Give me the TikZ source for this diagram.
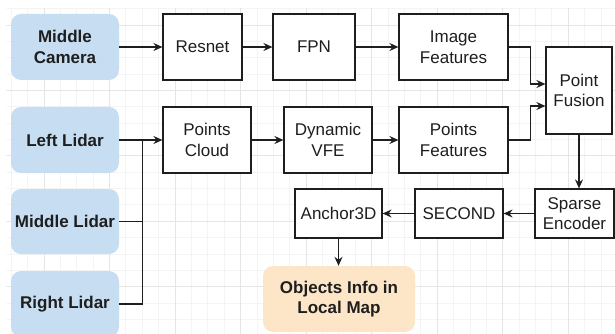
\documentclass[tikz,border=0pt]{standalone}
\usepackage{fontspec}
\setmainfont{Liberation Sans}
\usetikzlibrary{arrows.meta,calc}
\definecolor{srcblue}{RGB}{199,222,242}
\definecolor{outorange}{RGB}{253,230,200}
\definecolor{gridminor}{RGB}{244,244,244}
\definecolor{gridmajor}{RGB}{229,229,229}
\definecolor{ink}{RGB}{30,30,30}
\tikzset{
  lbl/.style={font=\fontsize{17}{20.5}\selectfont, align=center, text=ink, inner sep=0pt},
  proc/.style={lbl, draw=ink, line width=1.2pt, fill=white},
  source/.style={lbl, font=\fontsize{17}{20.5}\selectfont\bfseries, fill=srcblue, rounded corners=10pt},
  result/.style={lbl, font=\fontsize{17}{20.5}\selectfont\bfseries, fill=outorange, rounded corners=10pt},
  link/.style={draw=ink, line width=1.2pt},
  arr/.style={link, -{Stealth[length=9pt,width=8pt,inset=3pt]}},
}
\begin{document}
\begin{tikzpicture}[x=1pt,y=-1pt]
\useasboundingbox (0,0) rectangle (615,334);
\fill[white] (0,0) rectangle (615,334);

% background grid
\begin{scope}
  \clip (6.5,8.5) rectangle (615,334);
  \foreach \i in {-2,...,35} \draw[gridminor, line width=0.9pt] (44+\i*16.385,0) -- ++(0,334);
  \foreach \j in {-1,...,19} \draw[gridminor, line width=0.9pt] (0,25+\j*16.357) -- ++(615,0);
  \foreach \i in {0,...,8} \draw[gridmajor, line width=0.9pt] (44+\i*65.54,0) -- ++(0,334);
  \foreach \j in {0,...,4} \draw[gridmajor, line width=0.9pt] (0,25+\j*65.43) -- ++(615,0);
\end{scope}

% sensors
\node[source, minimum width=108pt, minimum height=66pt] (cam) at (65,47) {Middle\\Camera};
\node[source, minimum width=108pt, minimum height=66pt] (ll) at (65,140) {Left Lidar};
\node[source, minimum width=108pt, minimum height=65pt] (ml) at (65,221.5) {Middle Lidar};
\node[source, minimum width=108pt, minimum height=66pt] (rl) at (65,304) {Right Lidar};

% image branch
\node[proc, minimum width=79pt, minimum height=66pt] (resnet) at (202.5,47) {Resnet};
\node[proc, minimum width=82pt, minimum height=66pt] (fpn) at (314,47) {FPN};
\node[proc, minimum width=109pt, minimum height=66pt] (imgf) at (453.5,47) {Image\\Features};

% point branch
\node[proc, minimum width=88pt, minimum height=66pt] (pc) at (207,140) {Points\\Cloud};
\node[proc, minimum width=88pt, minimum height=66pt] (vfe) at (328,140) {Dynamic\\VFE};
\node[proc, minimum width=109pt, minimum height=66pt] (ptf) at (453.5,140) {Points\\Features};

% fusion and detection head
\node[proc, minimum width=66pt, minimum height=87pt] (fusion) at (579,90.5) {Point\\Fusion};
\node[proc, minimum width=79pt, minimum height=49pt] (sparse) at (574.5,213.5) {Sparse\\Encoder};
\node[proc, minimum width=88pt, minimum height=49pt] (second) at (459,213.5) {SECOND};
\node[proc, minimum width=87pt, minimum height=49pt] (anchor) at (338.5,213.5) {Anchor3D};
\node[result, minimum width=152pt, minimum height=66pt] (obj) at (339,299) {Objects Info in\\Local Map};

% junction points
\coordinate (merge) at (142.7,140);
\coordinate (fusA) at ($(fusion.west)+(0,-6.5)$);
\coordinate (fusB) at ($(fusion.west)+(0,15.5)$);

% connectors
\draw[arr] (cam.east) -- (resnet.west);
\draw[arr] (resnet.east) -- (fpn.west);
\draw[arr] (fpn.east) -- (imgf.west);
\draw[arr] (ll.east) -- (pc.west);
\draw[link] (ml.east) -| (merge);
\draw[link] (rl.east) -| (merge);
\draw[arr] (pc.east) -- (vfe.west);
\draw[arr] (vfe.east) -- (ptf.west);
\draw[arr] (imgf.east) -- ++(22,0) |- (fusA);
\draw[arr] (ptf.east) -- ++(22,0) |- (fusB);
\draw[arr] (fusion.south) -- (fusion.south |- sparse.north);
\draw[arr] (sparse.west) -- (second.east);
\draw[arr] (second.west) -- (anchor.east);
\draw[arr] (anchor.south) -- (anchor.south |- obj.north);
\end{tikzpicture}
\end{document}
